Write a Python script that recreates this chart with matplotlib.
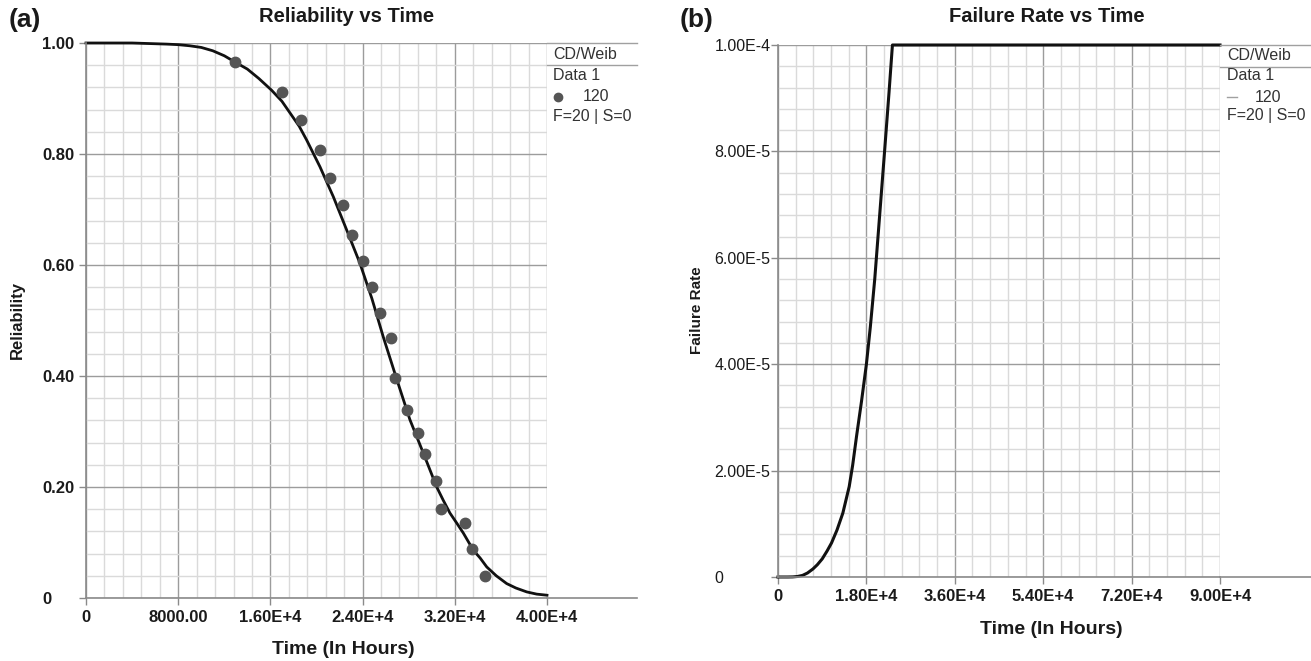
import matplotlib
matplotlib.use("Agg")
import matplotlib.pyplot as plt
from matplotlib.ticker import MultipleLocator

plt.rcParams["font.family"] = ["Liberation Sans", "DejaVu Sans"]

# --- panel (a): reliability ---
rel_t = [0, 4000, 7000, 8000, 9000, 10000, 11000, 12000, 12900, 14000, 15000,
         16100, 17000, 17700, 18500, 19150, 20300, 21460, 22620, 23770, 24800,
         25800, 26950, 28110, 29270, 30430, 31000, 31580, 32200, 32740, 33610,
         34200, 34770, 35600, 36500, 37300, 38240, 39100, 40000]
rel_r = [1.0, 1.0, 0.998, 0.997, 0.995, 0.992, 0.986, 0.977, 0.966, 0.953, 0.936,
         0.915, 0.895, 0.874, 0.850, 0.825, 0.777, 0.723, 0.663, 0.603, 0.540,
         0.470, 0.395, 0.321, 0.261, 0.200, 0.176, 0.153, 0.134, 0.117, 0.086,
         0.072, 0.056, 0.040, 0.026, 0.018, 0.011, 0.007, 0.005]

pts_t = [12930, 16985, 18655, 20300, 21170, 22270, 23080, 24060, 24840, 25510,
         26435, 26810, 27820, 28780, 29410, 30370, 30830, 32910, 33490, 34650]
pts_r = [0.966, 0.912, 0.862, 0.808, 0.756, 0.709, 0.654, 0.608, 0.560, 0.514,
         0.468, 0.396, 0.339, 0.297, 0.259, 0.210, 0.160, 0.136, 0.088, 0.040]

rel_xticks = [0, 8000, 16000, 24000, 32000, 40000]
rel_xlabels = ["0", "8000.00", "1.60E+4", "2.40E+4", "3.20E+4", "4.00E+4"]
rel_yticks = [0, 0.2, 0.4, 0.6, 0.8, 1.0]
rel_ylabels = ["0", "0.20", "0.40", "0.60", "0.80", "1.00"]

# --- panel (b): failure rate ---
fr_t = [0, 2000, 3000, 4000, 5000, 6000, 7100, 8000, 9000, 10000, 10900, 12000,
        13200, 14500, 15200, 16000, 17000, 18000, 18800, 19700, 20700, 21700,
        22600, 23300, 90000]
fr_h = [0, 0, 0.02e-6, 0.1e-6, 0.3e-6, 0.75e-6, 1.5e-6, 2.3e-6, 3.4e-6, 4.9e-6,
        6.4e-6, 8.8e-6, 1.2e-5, 1.7e-5, 2.1e-5, 2.65e-5, 3.3e-5, 4.0e-5, 4.7e-5,
        5.6e-5, 6.8e-5, 8.0e-5, 9.1e-5, 1.0e-4, 1.0e-4]

fr_xticks = [0, 18000, 36000, 54000, 72000, 90000]
fr_xlabels = ["0", "1.80E+4", "3.60E+4", "5.40E+4", "7.20E+4", "9.00E+4"]
fr_yticks = [0, 2e-5, 4e-5, 6e-5, 8e-5, 1e-4]
fr_ylabels = ["0", "2.00E-5", "4.00E-5", "6.00E-5", "8.00E-5", "1.00E-4"]

legend_lines = ["CD/Weib", "Data 1", "120", "F=20 | S=0"]

W, H = 1311, 661
fig = plt.figure(figsize=(W / 100, H / 100), dpi=100)
ax1 = fig.add_axes([86 / W, 1 - 598 / H, 461 / W, 555 / H])
ax2 = fig.add_axes([778 / W, 1 - 577 / H, 442 / W, 532 / H])

GRID_MAJ = "#9c9c9c"
GRID_MIN = "#dadada"
AXC = "#8a8a8a"
TXT = "#1a1a1a"


def style_axes(ax, xmaj, xmin, ymaj, ymin, ext, ypad):
    ax.xaxis.set_major_locator(MultipleLocator(xmaj))
    ax.xaxis.set_minor_locator(MultipleLocator(xmin))
    ax.yaxis.set_major_locator(MultipleLocator(ymaj))
    ax.yaxis.set_minor_locator(MultipleLocator(ymin))
    ax.grid(which="minor", color=GRID_MIN, lw=1)
    ax.grid(which="major", color=GRID_MAJ, lw=1)
    ax.set_axisbelow(True)
    for s in ["top", "right"]:
        ax.spines[s].set_visible(False)
    for s in ["left", "bottom"]:
        ax.spines[s].set_color(AXC)
        ax.spines[s].set_linewidth(1.2)
    ax.tick_params(which="minor", length=0)
    ax.tick_params(which="major", length=5, width=1, color=AXC, labelcolor=TXT)
    ax.tick_params(axis="y", pad=ypad)
    # x axis line runs on under the legend column
    ax.plot([1.0, ext], [0, 0], transform=ax.transAxes, color=AXC, lw=1.2, clip_on=False)


def draw_legend(ax, ext, head_y, rows, xt, xn, marker):
    ax.plot([1.0, ext], [1.0, 1.0], transform=ax.transAxes, color="#a0a0a0", lw=1, clip_on=False)
    ax.plot([1.0, ext], [head_y, head_y], transform=ax.transAxes, color="#a0a0a0", lw=1, clip_on=False)
    kw = dict(transform=ax.transAxes, fontsize=11.5, color="#333333", va="center", ha="left")
    ax.text(xt, rows[0], legend_lines[0], **kw)
    ax.text(xt, rows[1], legend_lines[1], **kw)
    ax.text(xn, rows[2], legend_lines[2], **kw)
    ax.text(xt, rows[3], legend_lines[3], **kw)
    if marker:
        ax.plot([xt + 0.01], [rows[2]], "o", color="#555555", ms=6, transform=ax.transAxes, clip_on=False)
    else:
        ax.plot([xt, xt + 0.022], [rows[2], rows[2]], color="#a0a0a0", lw=1, transform=ax.transAxes, clip_on=False)


# panel (a)
style_axes(ax1, 8000, 1600, 0.2, 0.04, 1.195, 26.7)
ax1.set_xlim(0, 40000)
ax1.set_ylim(0, 1.0)
ax1.plot(rel_t, rel_r, color="#111111", lw=2, clip_on=False)
ax1.plot(pts_t, pts_r, "o", color="#555555", ms=7.5, zorder=3)
ax1.set_xticks(rel_xticks)
ax1.set_xticklabels(rel_xlabels, fontsize=12, fontweight="bold")
ax1.set_yticks(rel_yticks)
ax1.set_yticklabels(rel_ylabels, fontsize=12, fontweight="bold")
for lbl in ax1.get_yticklabels():
    lbl.set_ha("left")
draw_legend(ax1, 1.195, 0.960, [0.980, 0.941, 0.903, 0.867], 1.013, 1.078, True)

# panel (b)
style_axes(ax2, 18000, 3600, 2e-5, 4e-6, 1.206, 40.7)
ax2.set_xlim(0, 90000)
ax2.set_ylim(0, 1e-4)
ax2.plot(fr_t, fr_h, color="#111111", lw=2.2, clip_on=False)
ax2.set_xticks(fr_xticks)
ax2.set_xticklabels(fr_xlabels, fontsize=12, fontweight="bold")
ax2.set_yticks(fr_yticks)
ax2.set_yticklabels(fr_ylabels, fontsize=11.5)
for lbl in ax2.get_yticklabels():
    lbl.set_ha("left")
draw_legend(ax2, 1.206, 0.959, [0.981, 0.942, 0.902, 0.867], 1.016, 1.079, False)


# titles and labels placed in figure pixels
def ftext(x, y, s, **kw):
    fig.text(x / W, 1 - y / H, s, ha="center", va="center", color=TXT, **kw)


ftext(25, 20, "(a)", fontsize=19, fontweight="bold")
ftext(697, 20, "(b)", fontsize=19, fontweight="bold")
ftext(347, 17, "Reliability vs Time", fontsize=14.5, fontweight="bold")
ftext(1047, 17, "Failure Rate vs Time", fontsize=14.5, fontweight="bold")
ftext(343, 650, "Time (In Hours)", fontsize=14, fontweight="bold")
ftext(1051, 630, "Time (In Hours)", fontsize=14, fontweight="bold")
ftext(17, 320, "Reliability", fontsize=12, fontweight="bold", rotation=90)
ftext(697, 310, "Failure Rate", fontsize=11, fontweight="bold", rotation=90)

fig.savefig("out.png", dpi=100)
